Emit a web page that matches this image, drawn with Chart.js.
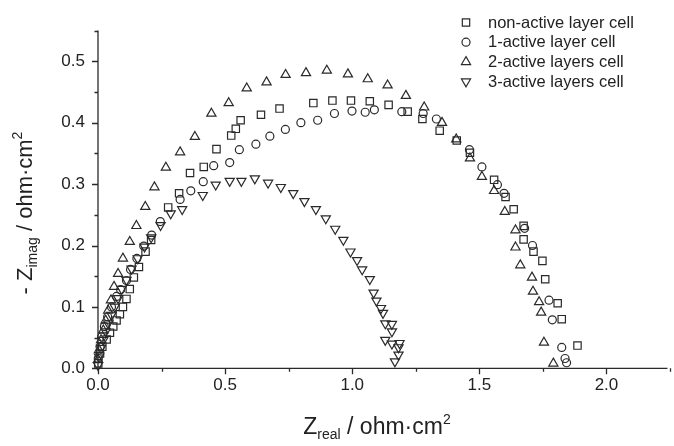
<!DOCTYPE html>
<html><head><meta charset="utf-8">
<script src="https://cdn.jsdelivr.net/npm/chart.js@4.4.0/dist/chart.umd.min.js"></script>
<style>html,body{margin:0;padding:0;background:#fff}#wrap{width:674px;height:446px;position:relative}</style>
</head><body><div id="wrap"><canvas id="c"></canvas></div>
<script>
const seriesLabels = ['non-active layer cell','1-active layer cell','2-active layers cell','3-active layers cell'];
const xTickValues = [0, 0.5, 1.0, 1.5, 2.0];
const yTickValues = [0, 0.1, 0.2, 0.3, 0.4, 0.5];

const nonActiveX = [0.001,0.008,0.017,0.034,0.047,0.060,0.073,0.086,0.098,0.112,0.125,0.141,0.161,0.187,0.209,0.276,0.319,0.362,0.416,0.466,0.524,0.542,0.561,0.641,0.714,0.847,0.922,0.995,1.069,1.143,1.218,1.276,1.344,1.411,1.463,1.558,1.603,1.635,1.674,1.674,1.713,1.748,1.759,1.808,1.824,1.886];
const nonActiveY = [0.008,0.024,0.035,0.047,0.058,0.068,0.078,0.088,0.100,0.113,0.129,0.148,0.165,0.190,0.209,0.262,0.285,0.318,0.328,0.357,0.379,0.390,0.404,0.413,0.423,0.432,0.436,0.436,0.435,0.429,0.418,0.406,0.387,0.371,0.351,0.307,0.279,0.259,0.232,0.210,0.190,0.175,0.145,0.106,0.080,0.037];

const oneActiveX = [0.001,0.008,0.014,0.025,0.038,0.053,0.073,0.089,0.112,0.128,0.153,0.180,0.211,0.245,0.323,0.365,0.414,0.455,0.518,0.556,0.621,0.676,0.737,0.798,0.864,0.930,0.999,1.051,1.087,1.195,1.279,1.331,1.461,1.510,1.571,1.597,1.678,1.709,1.774,1.787,1.824,1.837,1.843];
const oneActiveY = [0.016,0.035,0.051,0.068,0.084,0.100,0.117,0.128,0.143,0.161,0.179,0.199,0.217,0.239,0.275,0.289,0.304,0.330,0.335,0.356,0.365,0.378,0.389,0.400,0.404,0.415,0.419,0.417,0.421,0.418,0.415,0.406,0.356,0.328,0.299,0.285,0.228,0.200,0.111,0.079,0.034,0.016,0.009];

const twoActiveX = [0.000,0.004,0.012,0.021,0.030,0.040,0.051,0.063,0.079,0.098,0.125,0.151,0.186,0.222,0.267,0.323,0.381,0.446,0.514,0.585,0.663,0.738,0.818,0.900,0.983,1.061,1.139,1.211,1.283,1.353,1.409,1.463,1.510,1.558,1.600,1.642,1.642,1.661,1.707,1.711,1.735,1.743,1.754,1.791];
const twoActiveY = [0.014,0.030,0.046,0.062,0.078,0.094,0.111,0.133,0.154,0.179,0.206,0.232,0.263,0.295,0.327,0.352,0.377,0.415,0.432,0.456,0.466,0.478,0.481,0.485,0.479,0.471,0.461,0.444,0.425,0.400,0.373,0.342,0.312,0.289,0.255,0.225,0.197,0.168,0.148,0.125,0.108,0.091,0.042,0.008];

const threeActiveX = [0.000,0.004,0.012,0.021,0.030,0.040,0.053,0.066,0.079,0.093,0.112,0.132,0.156,0.183,0.209,0.246,0.286,0.331,0.412,0.463,0.518,0.564,0.617,0.669,0.719,0.768,0.812,0.857,0.896,0.933,0.965,0.993,1.019,1.039,1.069,1.084,1.095,1.113,1.121,1.130,1.156,1.156,1.130,1.156,1.186,1.182,1.182,1.168];
const threeActiveY = [0.005,0.019,0.033,0.046,0.060,0.073,0.087,0.100,0.114,0.129,0.144,0.162,0.179,0.198,0.213,0.233,0.252,0.259,0.282,0.299,0.305,0.305,0.309,0.302,0.295,0.285,0.272,0.259,0.244,0.227,0.209,0.190,0.176,0.161,0.145,0.123,0.110,0.098,0.090,0.073,0.072,0.060,0.046,0.040,0.041,0.034,0.022,0.011];

const INK = '#2a2a2a';
const FONT = '"Liberation Sans", Arial, sans-serif';

function pts(xs, ys){ return xs.map((x,i)=>({x:x, y:ys[i]})); }

const styles = [
  {pointStyle:'rect', radius:5.2, rotation:0},
  {pointStyle:'circle', radius:4.0, rotation:0},
  {pointStyle:'triangle', radius:5.3, rotation:0},
  {pointStyle:'triangle', radius:5.3, rotation:180}
];
const seriesData = [pts(nonActiveX,nonActiveY), pts(oneActiveX,oneActiveY), pts(twoActiveX,twoActiveY), pts(threeActiveX,threeActiveY)];

const datasets = seriesData.map((d,i)=>({
  label: seriesLabels[i], data: d,
  pointStyle: styles[i].pointStyle, pointRadius: styles[i].radius, pointRotation: styles[i].rotation,
  pointBorderWidth: 1.2, borderColor: INK, pointBorderColor: INK, backgroundColor:'rgba(0,0,0,0)', pointBackgroundColor:'rgba(0,0,0,0)',
  showLine:false, clip:false
}));

function drawMarker(ctx, style, x, y){
  ctx.save();
  ctx.strokeStyle = INK; ctx.lineWidth = 1.2;
  ctx.beginPath();
  const r = style.radius;
  if (style.pointStyle === 'rect'){
    const s = Math.SQRT1_2 * r; ctx.rect(x-s, y-s, 2*s, 2*s);
  } else if (style.pointStyle === 'circle'){
    ctx.arc(x, y, r, 0, Math.PI*2);
  } else {
    let a = style.rotation * Math.PI/180;
    ctx.moveTo(x + Math.sin(a)*r, y - Math.cos(a)*r);
    a += 2*Math.PI/3; ctx.lineTo(x + Math.sin(a)*r, y - Math.cos(a)*r);
    a += 2*Math.PI/3; ctx.lineTo(x + Math.sin(a)*r, y - Math.cos(a)*r);
    ctx.closePath();
  }
  ctx.stroke();
  ctx.restore();
}

function drawRich(ctx, parts, x, y, align){
  let total = 0;
  parts.forEach(p=>{ ctx.font = p.size+'px '+FONT; p.w = ctx.measureText(p.t).width; total += p.w; });
  let cx = align==='center' ? x - total/2 : x;
  parts.forEach(p=>{ ctx.font = p.size+'px '+FONT; ctx.fillText(p.t, cx, y + (p.dy||0)); cx += p.w; });
}

const decor = {
  id:'decor',
  afterDraw(chart){
    const ctx = chart.ctx, xs = chart.scales.x, ys = chart.scales.y, ca = chart.chartArea;
    ctx.save();
    ctx.strokeStyle = INK; ctx.lineWidth = 1.3;
    ctx.beginPath();
    ctx.moveTo(ca.left, ca.top); ctx.lineTo(ca.left, ca.bottom); ctx.lineTo(ca.right, ca.bottom);
    ctx.stroke();
    ctx.beginPath();
    for (let v=0; v<=0.5501; v+=0.05){
      const py = Math.round(ys.getPixelForValue(v))+0.5;
      const major = Math.abs(v*10 - Math.round(v*10)) < 1e-6;
      ctx.moveTo(ca.left, py); ctx.lineTo(ca.left - (major?6:3.5), py);
    }
    for (let v=0; v<=2.2501; v+=0.25){
      const px = Math.round(xs.getPixelForValue(v))+0.5;
      const major = Math.abs(v*2 - Math.round(v*2)) < 1e-6;
      ctx.moveTo(px, ca.bottom); ctx.lineTo(px, ca.bottom + (major?6:3.5));
    }
    ctx.stroke();
    ctx.fillStyle = '#222'; ctx.textBaseline='middle'; ctx.textAlign='left';
    ctx.font = '16.5px '+FONT;
    seriesLabels.forEach((lab,i)=>{
      const y = 22.5 + i*19.7;
      drawMarker(ctx, styles[i], 466, y);
      ctx.fillText(lab, 488, y+0.5);
    });
    ctx.textBaseline='alphabetic';
    drawRich(ctx, [{t:'Z',size:23},{t:'real',size:14,dy:5},{t:' / ohm\u00B7cm',size:23},{t:'2',size:14,dy:-10}], 377, 434, 'center');
    ctx.translate(32, 213);
    ctx.rotate(-Math.PI/2);
    drawRich(ctx, [{t:'- Z',size:22},{t:'imag',size:14,dy:5},{t:' / ohm\u00B7cm',size:22},{t:'2',size:14,dy:-10}], 0, 0, 'center');
    ctx.restore();
  }
};

new Chart(document.getElementById('c'), {
  type:'scatter',
  data:{datasets},
  options:{
    responsive:true, maintainAspectRatio:false, animation:false,
    layout:{padding:{left:0, top:30.6, right:1, bottom:0}},
    plugins:{legend:{display:false}, tooltip:{enabled:false}},
    scales:{
      x:{type:'linear', min:0, max:2.24,
        grid:{display:false, drawTicks:false}, border:{display:false},
        afterBuildTicks:(s)=>{ s.ticks = xTickValues.map(v=>({value:v})); },
        afterFit:(s)=>{ s.height = 446 - 368.3; },
        ticks:{padding:7, color:'#222', font:{family:FONT, size:17}, callback:(v)=>Number(v).toFixed(1), maxRotation:0, autoSkip:false}
      },
      y:{type:'linear', min:0, max:0.55,
        grid:{display:false, drawTicks:false}, border:{display:false},
        afterBuildTicks:(s)=>{ s.ticks = yTickValues.map(v=>({value:v})); },
        afterFit:(s)=>{ s.width = 98; },
        ticks:{padding:13, color:'#222', font:{family:FONT, size:17}, callback:(v)=>Number(v).toFixed(1), autoSkip:false}
      }
    }
  },
  plugins:[decor]
});
</script></body></html>
